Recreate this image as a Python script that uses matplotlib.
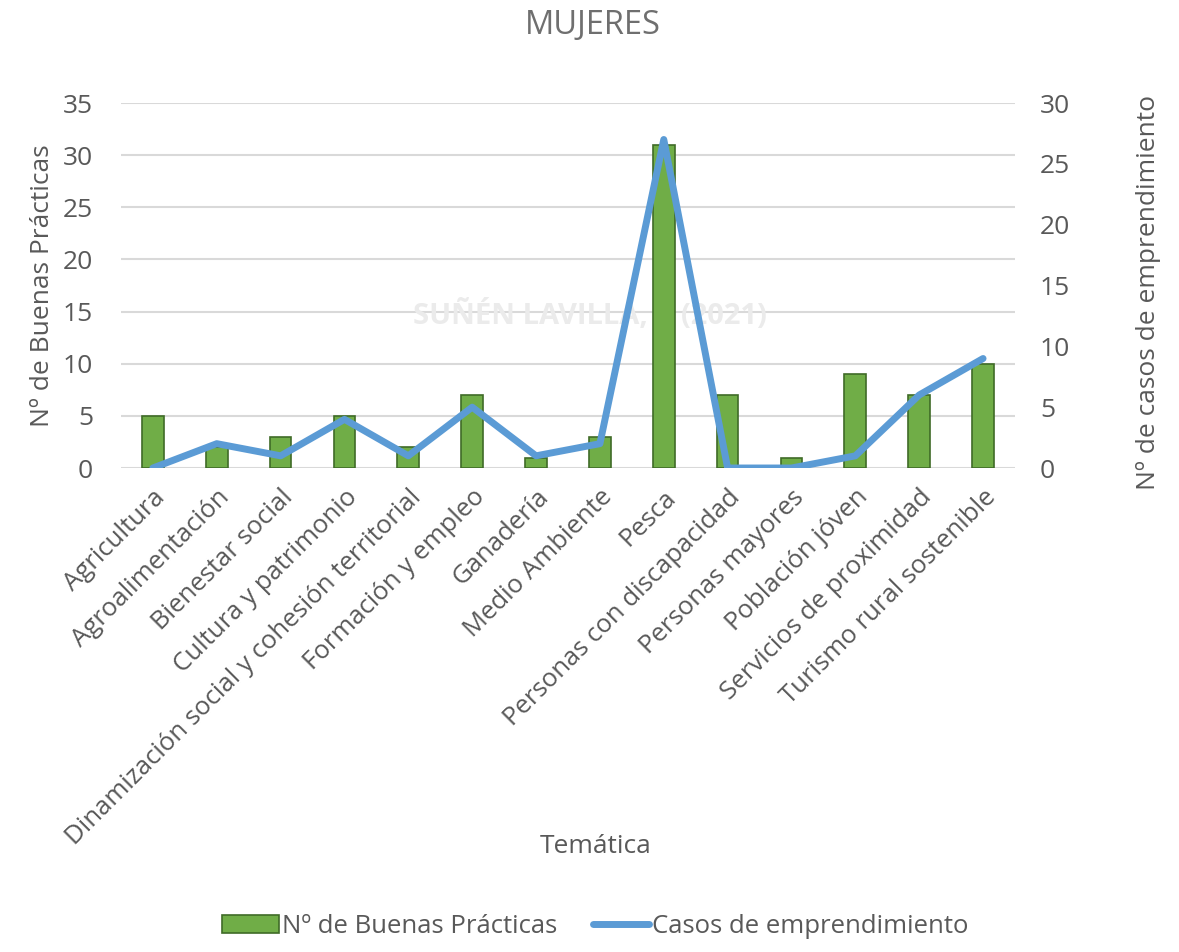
import matplotlib
matplotlib.use("Agg")
import matplotlib.pyplot as plt
import numpy as np

categories = ["Agricultura", "Agroalimentación", "Bienestar social", "Cultura y patrimonio",
              "Dinamización social y cohesión territorial", "Formación y empleo", "Ganadería",
              "Medio Ambiente", "Pesca", "Personas con discapacidad", "Personas mayores",
              "Población jóven", "Servicios de proximidad", "Turismo rural sostenible"]
buenas_practicas = [5, 2, 3, 5, 2, 7, 1, 3, 31, 7, 1, 9, 7, 10]
emprendimiento = [0, 2, 1, 4, 1, 5, 1, 2, 27, 0, 0, 1, 6, 9]
left_ticks = [0, 5, 10, 15, 20, 25, 30, 35]
right_ticks = [0, 5, 10, 15, 20, 25, 30]

plt.rcParams['font.family'] = ['Open Sans', 'DejaVu Sans']
txt = '#595959'

fig = plt.figure(figsize=(11.79, 9.52), dpi=100)
ax = fig.add_axes([0.1026, 0.5084, 0.7583, 0.3834])
ax2 = ax.twinx()

x = np.arange(len(categories))
ax.bar(x, buenas_practicas, width=0.34, color='#70ad47', edgecolor='#3f6b27', linewidth=1.2, zorder=2,
       label='Nº de Buenas Prácticas')
ax2.plot(x, emprendimiento, color='#5b9bd5', linewidth=5, solid_capstyle='round', solid_joinstyle='round',
         zorder=3, label='Casos de emprendimiento')

ax.set_xlim(-0.5, len(categories) - 0.5)
ax.set_ylim(0, 35)
ax2.set_ylim(0, 30)
ax.set_yticks(left_ticks)
ax2.set_yticks(right_ticks)
ax.yaxis.grid(True, color='#d9d9d9', linewidth=1.5, zorder=0)
ax.set_axisbelow(True)
for a in (ax, ax2):
    for s in a.spines.values():
        s.set_visible(False)
    a.tick_params(length=0, labelsize=19, colors=txt)
ax.tick_params(axis='y', pad=20)
ax2.tick_params(axis='y', pad=18)

ax.set_xticks(x)
ax.set_xticklabels(categories, rotation=45, ha='right', rotation_mode='anchor', fontsize=18.5, color=txt)
ax.tick_params(axis='x', pad=12)

ax.set_ylabel('Nº de Buenas Prácticas', fontsize=19, color=txt, labelpad=6)
ax2.set_ylabel('Nº de casos de emprendimiento', fontsize=19, color=txt, labelpad=14)
ax2.yaxis.set_label_coords(1.135, 0.48)
fig.text(0.505, 0.111, 'Temática', ha='center', va='center', fontsize=19, color=txt)
fig.text(0.503, 0.973, 'MUJERES', ha='center', va='center', fontsize=23.5, color='#6f6f6f')
ax.text(0.50, 0.669, 'SUÑÉN LAVILLA, I. (2021)', transform=fig.transFigure, ha='center', va='center',
        fontsize=21, color='#ebebeb', fontweight='bold', zorder=1.5)

h1, l1 = ax.get_legend_handles_labels()
h2, l2 = ax2.get_legend_handles_labels()
fig.legend(h1 + h2, l1 + l2, loc='center', bbox_to_anchor=(0.505, 0.027), ncol=2, frameon=False,
           fontsize=18.5, labelcolor=txt, handlelength=2.2, handletextpad=0.1, columnspacing=1.4)

fig.savefig('out.png', dpi=100, facecolor='white')
